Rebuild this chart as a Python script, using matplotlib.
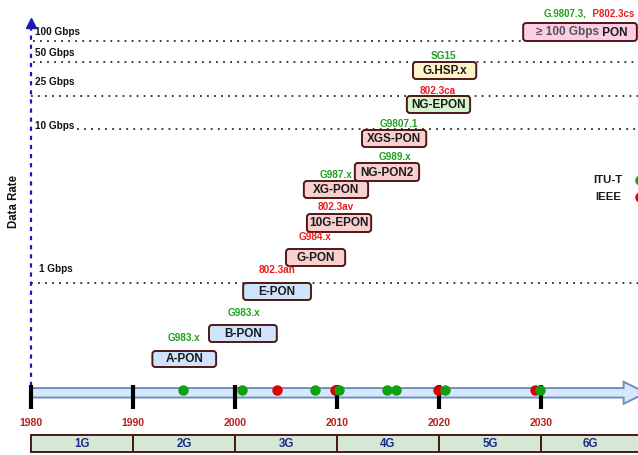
import matplotlib
matplotlib.use("Agg")
import matplotlib.pyplot as plt
from matplotlib.patches import FancyBboxPatch, FancyArrow, Rectangle

plt.rcParams['font.family'] = ['Liberation Sans', 'DejaVu Sans']

# ---------------- data ----------------
techs = ["A-PON", "B-PON", "E-PON", "G-PON", "10G-EPON", "XG-PON", "NG-PON2",
         "XGS-PON", "NG-EPON", "G.HSP.x"]
box_start = [1991.9, 1997.45, 2000.8, 2005.0, 2007.05, 2006.75, 2011.75,
             2012.45, 2016.85, 2017.45]
box_end = [1998.15, 2004.1, 2007.45, 2010.8, 2013.35, 2013.05, 2018.05,
           2018.75, 2023.05, 2023.65]
box_top = [351, 325, 283, 249, 214, 181, 163, 130, 96, 62]
box_bottom = [367, 342, 300, 266, 232, 198, 181, 147, 113, 79]
box_fill = ["#cfe3fb", "#cfe3fb", "#cfe3fb", "#f9cfcf", "#f9cfcf", "#f9cfcf",
            "#f9cfcf", "#f9cfcf", "#d4f5cf", "#fff3c9"]
std_names = ["G983.x", "G983.x", "802.3ah", "G984.x", "802.3av", "G987.x",
             "G989.x", "G9807.1", "802.3ca", "SG15"]
std_body = ["ITU", "ITU", "IEEE", "IEEE", "IEEE", "ITU", "ITU", "ITU", "IEEE", "ITU"]
std_label_year = [1995.0, 2000.85, 2004.1, 2007.85, 2009.9, 2009.95, 2015.7,
                  2016.1, 2019.9, 2020.4]
std_label_row = [338, 313, 270, 237, 207, 175, 157, 124, 91, 56]

top_tech = "≥ 100 Gbps"
top_tech_suffix = "PON"
top_start, top_end = 2028.25, 2039.4
top_row = (23, 41)
top_std = ["G.9807.3,", "P802.3cs"]

rate_labels = ["100 Gbps", "50 Gbps", "25 Gbps", "10 Gbps", "1 Gbps"]
rate_rows = [40.5, 62, 96, 128.5, 283]
rate_line_start = [1980.2, 1980.2, 1980.0, 1984.5, 1980.0]
rate_line_end = [2028.25, 2039.6, 2039.6, 2039.6, 2039.6]
rate_label_row = [32, 53, 82, 126, 269]

itu_years = [1994.9, 2000.7, 2007.8, 2010.15, 2014.9, 2015.8, 2020.6, 2029.9]
ieee_years = [2004.1, 2009.8, 2019.9, 2029.4]

decades = [1980, 1990, 2000, 2010, 2020, 2030]
generations = ["1G", "2G", "3G", "4G", "5G", "6G"]
gen_edges = [1980, 1990, 2000, 2010, 2020, 2030, 2039.6]

# ---------------- colours ----------------
GREEN_DOT = "#0ea00e"
RED_DOT = "#dd0000"
GREEN_TXT = "#22a022"
RED_TXT = "#ee1c1c"
EDGE = "#4d1717"
YEAR_COL = "#b5201c"
GEN_COL = "#1c2a8e"

# ---------------- figure ----------------
W, H = 638, 455
PX_PER_YEAR = 10.2
X0 = 1980 - 31 / PX_PER_YEAR
X1 = 1980 + (W - 31) / PX_PER_YEAR

fig = plt.figure(figsize=(W / 100, H / 100), dpi=100)
ax = fig.add_axes([0, 0, 1, 1])
ax.set_xlim(X0, X1)
ax.set_ylim(H, 0)
ax.axis("off")

# dotted rate lines + labels
for lab, r, xs, xe, lr in zip(rate_labels, rate_rows, rate_line_start,
                               rate_line_end, rate_label_row):
    ax.plot([xs, xe], [r, r], color="#2a2a2a", lw=1.3,
            linestyle=(0, (1, 2.9)), zorder=1)
    ax.text(1980.4 if lab != "1 Gbps" else 1980.8, lr, lab, fontsize=7.2,
            fontweight="bold", color="#111111", ha="left", va="center", zorder=3)

# vertical dashed data-rate axis
ax.plot([1980, 1980], [386, 26], color="#1a1ab4", lw=1.6,
        linestyle=(0, (1.9, 2.2)), zorder=2)
ax.plot([1980], [23], marker="^", color="#1a1ab4", markersize=6.5, zorder=3)
ax.text(X0 + 14 / PX_PER_YEAR, 202, "Data Rate", rotation=90, fontsize=8.3,
        fontweight="bold", ha="center", va="center", color="#111111")

# technology boxes
def rbox(x0, x1, ytop, ybot, fc):
    p = FancyBboxPatch((x0, ytop), x1 - x0, ybot - ytop,
                       boxstyle="round,pad=0,rounding_size=0.3",
                       mutation_aspect=PX_PER_YEAR, fc=fc, ec=EDGE, lw=1.4,
                       zorder=4)
    ax.add_patch(p)

for name, xs, xe, yt, yb, fc in zip(techs, box_start, box_end, box_top,
                                    box_bottom, box_fill):
    rbox(xs, xe, yt, yb, fc)
    ax.text((xs + xe) / 2, (yt + yb) / 2 + 0.5, name, fontsize=8.5,
            fontweight="bold", color="#1a1a1a", ha="center", va="center",
            zorder=5)

for s, body, lx, ly in zip(std_names, std_body, std_label_year, std_label_row):
    ax.text(lx, ly, s, fontsize=7.2, fontweight="bold",
            color=GREEN_TXT if body == "ITU" else RED_TXT,
            ha="center", va="center", zorder=5)

# top (>=100G) box
rbox(top_start, top_end, top_row[0], top_row[1], "#fdcde6")
t1 = ax.text(top_start + 1.25, (top_row[0] + top_row[1]) / 2 + 0.5, top_tech,
             fontsize=8.5, fontweight="bold", color="#555555", ha="left",
             va="center", zorder=5)
ax.annotate(" " + top_tech_suffix, xy=(1, 0.5), xycoords=t1, fontsize=8.5,
            fontweight="bold", color="#1a1a1a", ha="left", va="center",
            zorder=5)
t2 = ax.text(2030.3, 14, top_std[0], fontsize=7.0, fontweight="bold",
             color=GREEN_TXT, ha="left", va="center")
ax.annotate("  " + top_std[1], xy=(1, 0.5), xycoords=t2, fontsize=7.0,
            fontweight="bold", color=RED_TXT, ha="left", va="center")

# legend
ax.text(2037.95, 180, "ITU-T", fontsize=8.2, fontweight="bold",
        color="#1a1a1a", ha="right", va="center")
ax.text(2037.85, 197, "IEEE", fontsize=8.2, fontweight="bold",
        color="#1a1a1a", ha="right", va="center")
ax.plot([2039.75], [180], "o", color=GREEN_DOT, markersize=6.5, clip_on=False)
ax.plot([2039.75], [197], "o", color=RED_DOT, markersize=6.5, clip_on=False)

# timeline arrow
arr = FancyArrow(1980, 392.8, 2040.3 - 1980, 0, width=9.5, head_width=22,
                 head_length=2.2, length_includes_head=True, fc="#d6e6fb",
                 ec="#6f8fbe", lw=1.4, zorder=2)
ax.add_patch(arr)

for d in decades:
    ax.plot([d, d], [385, 409], color="black", lw=3, solid_capstyle="butt",
            zorder=3)
    ax.text(d, 423, str(d), fontsize=7.5, fontweight="bold", color=YEAR_COL,
            ha="center", va="center")

ax.plot(ieee_years, [389.5] * len(ieee_years), "o", color=RED_DOT,
        markersize=6.5, zorder=4)
ax.plot(itu_years, [389.5] * len(itu_years), "o", color=GREEN_DOT,
        markersize=6.5, zorder=4)

# generation bar
for g, a, b in zip(generations, gen_edges[:-1], gen_edges[1:]):
    ax.add_patch(Rectangle((a, 435), b - a, 17, fc="#d6e8d3", ec=EDGE, lw=1.4,
                           zorder=2, clip_on=False))
    ax.text((a + b) / 2, 444, g, fontsize=8.3, fontweight="bold",
            color=GEN_COL, ha="center", va="center", zorder=3)

fig.savefig("out.png", dpi=100)
